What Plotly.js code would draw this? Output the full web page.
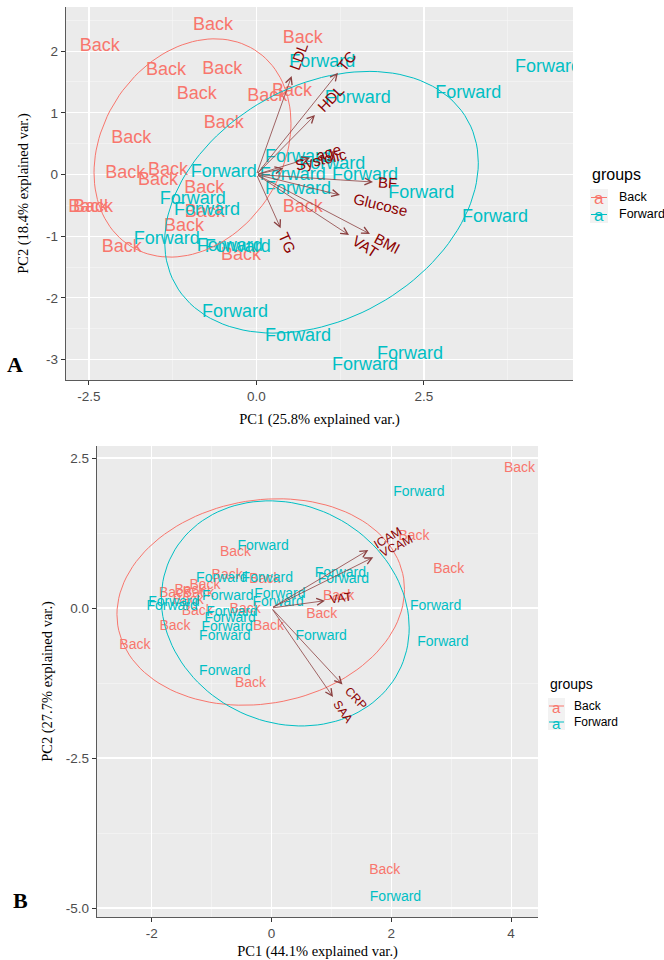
<!DOCTYPE html>
<html><head><meta charset="utf-8">
<script src="https://cdn.plot.ly/plotly-3.0.1.min.js"></script>
<style>html,body{margin:0;padding:0;overflow:hidden;background:#fff}#chart{width:664px;height:960px}</style>
</head><body><div id="chart"></div>
<script>
// ---------- Panel A data ----------
const groupNames = ['Back', 'Forward'];
const groupColors = ['#F8766D', '#00BFC4'];

const aBackX = [-2.34,-0.65,0.69,-1.35,-0.51,-0.89,0.16,0.53,-0.49,-1.87,-1.96,-1.32,-1.47,-0.78,-2.51,-2.44,-2.01,-0.77,-1.08,-0.23,0.69];
const aBackY = [2.08,2.41,2.21,1.68,1.71,1.30,1.26,1.34,0.83,0.58,0.01,0.06,-0.09,-0.22,-0.53,-0.53,-1.18,-0.62,-0.85,-1.31,-0.54];
const aFwdX = [0.98,4.35,3.16,1.51,-0.49,0.62,1.13,0.54,1.62,0.62,2.46,3.56,-0.95,-0.74,-1.34,-0.40,-0.28,-0.32,0.62,2.29,1.62];
const aFwdY = [1.82,1.74,1.31,1.24,0.04,0.27,0.17,-0.02,-0.02,-0.25,-0.30,-0.69,-0.40,-0.59,-1.06,-1.17,-1.19,-2.24,-2.62,-2.91,-3.10];

const aVarNames = ['LDL','TC','HDL','age','Systolic','BF','Glucose','BMI','VAT','TG'];
const aVarX = [0.525,1.216,0.873,0.80,0.40,1.739,1.246,1.694,1.381,0.361];
const aVarY = [1.596,1.650,0.964,0.27,0.10,-0.122,-0.332,-0.964,-0.981,-0.872];

// ellipse (centre and covariance) per group: [Back, Forward]
const aEllCx = [-0.955, 0.97];
const aEllCy = [0.43, -0.45];
const aEllSxx = [2.16, 5.48];
const aEllSyy = [3.13, 4.5];
const aEllSxy = [0.59, 1.5];

const aXTickVals = [-2.5, 0, 2.5];
const aXTickText = ['-2.5', '0.0', '2.5'];
const aYTickVals = [-3, -2, -1, 0, 1, 2];
const aYTickText = ['-3', '-2', '-1', '0', '1', '2'];
const aXTitle = 'PC1 (25.8% explained var.)';
const aYTitle = 'PC2 (18.4% explained var.)';

// ---------- Panel B data ----------
const bBackX = [4.14,2.38,2.96,1.12,0.84,-0.60,-0.74,-0.11,-0.05,-1.11,-1.22,-1.62,-1.39,-1.24,-0.44,-1.61,-2.28,-0.35,1.89,-1.36];
const bBackY = [2.33,1.20,0.65,0.20,-0.10,0.93,0.55,0.47,-0.30,0.37,0.25,0.25,0.13,-0.05,-0.02,-0.30,-0.62,-1.25,-4.38,0.30];
const bFwdX = [2.46,2.74,2.86,-0.14,1.15,1.20,0.83,-0.07,0.14,0.11,-0.83,-0.73,-1.63,-1.66,-0.66,-0.69,-0.74,-0.78,-0.78,2.07];
const bFwdY = [1.92,0.02,-0.57,1.03,0.58,0.48,-0.47,0.50,0.22,0.10,0.50,0.20,0.10,0.03,-0.07,-0.18,-0.33,-0.48,-1.05,-4.82];

const bVarNames = ['ICAM','VCAM','VAT','CRP','SAA'];
const bVarX = [1.616,1.699,0.893,1.185,1.027];
const bVarY = [0.967,0.845,0.122,-1.275,-1.483];

const bEllCx = [-0.18, 0.23];
const bEllCy = [0.10, -0.09];
const bEllSxx = [5.76, 4.28];
const bEllSyy = [2.96, 3.52];
const bEllSxy = [0.5, -0.5];

const bXTickVals = [-2, 0, 2, 4];
const bXTickText = ['-2', '0', '2', '4'];
const bYTickVals = [-5, -2.5, 0, 2.5];
const bYTickText = ['-5.0', '-2.5', '0.0', '2.5'];
const bXTitle = 'PC1 (44.1% explained var.)';
const bYTitle = 'PC2 (27.7% explained var.)';

// ---------- geometry / layout ----------
const W = 664, H = 960;
const panels = [
  {xa:'x', ya:'y', left:66, right:573, top:7, bottom:380, xr:[-2.843,4.724], yr:[-3.331,2.715],
   xt:aXTickVals, xtt:aXTickText, yt:aYTickVals, ytt:aYTickText, xminor:1.25, yminor:0.5,
   back:[aBackX,aBackY], fwd:[aFwdX,aFwdY], vn:aVarNames, vx:aVarX, vy:aVarY,
   ell:[aEllCx,aEllCy,aEllSxx,aEllSyy,aEllSxy], ptSize:18, varSize:15, xTitle:aXTitle, yTitle:aYTitle,
   yStand:14},
  {xa:'x2', ya:'y2', left:97, right:538, top:446, bottom:917, xr:[-2.913,4.449], yr:[-5.15,2.7],
   xt:bXTickVals, xtt:bXTickText, yt:bYTickVals, ytt:bYTickText, xminor:1, yminor:1.25,
   back:[bBackX,bBackY], fwd:[bFwdX,bFwdY], vn:bVarNames, vx:bVarX, vy:bVarY,
   ell:[bEllCx,bEllCy,bEllSxx,bEllSyy,bEllSxy], ptSize:14, varSize:12, xTitle:bXTitle, yTitle:bYTitle,
   yStand:9}
];

const sans = 'Liberation Sans, Arial, sans-serif';
const serif = 'Liberation Serif, Times New Roman, serif';
const ctx = document.createElement('canvas').getContext('2d');
function textW(t, size){ ctx.font = size + 'px "Liberation Sans"'; return ctx.measureText(t).width; }

function ellipsePath(cx, cy, sxx, syy, sxy){
  const l11 = Math.sqrt(sxx), l21 = sxy / l11, l22 = Math.sqrt(syy - l21*l21);
  const xs = [], ys = [];
  for (let i = 0; i <= 120; i++){
    const t = 2*Math.PI*i/120, u = Math.cos(t), v = Math.sin(t);
    xs.push(cx + l11*u); ys.push(cy + l21*u + l22*v);
  }
  return [xs, ys];
}

const traces = [];
const annotations = [];
const shapes = [];
const layout = {
  width: W, height: H, margin:{l:0,r:0,t:0,b:0},
  paper_bgcolor:'#ffffff', plot_bgcolor:'#EBEBEB', showlegend:false,
  annotations: annotations, shapes: shapes
};

panels.forEach((p, pi) => {
  const sfx = pi === 0 ? '' : '2';
  const axCommon = {
    showline:true, linecolor:'#5a5a5a', linewidth:1.2, mirror:false,
    ticks:'outside', ticklen:4, tickcolor:'#333333', tickwidth:1,
    tickfont:{family:sans, size:13.5, color:'#4D4D4D'},
    showgrid:true, gridcolor:'#FFFFFF', gridwidth:1.1, zeroline:false, fixedrange:true
  };
  layout['xaxis'+sfx] = Object.assign({}, axCommon, {
    domain:[p.left/W, p.right/W], range:p.xr, anchor:'y'+sfx,
    tickmode:'array', tickvals:p.xt, ticktext:p.xtt,
    minor:{dtick:p.xminor, tick0:0, showgrid:true, gridcolor:'#F7F7F7', gridwidth:0.6, ticks:''},
    title:{text:p.xTitle, font:{family:serif, size:14.5, color:'#000'}, standoff:10}
  });
  layout['yaxis'+sfx] = Object.assign({}, axCommon, {
    domain:[1 - p.bottom/H, 1 - p.top/H], range:p.yr, anchor:'x'+sfx,
    tickmode:'array', tickvals:p.yt, ticktext:p.ytt,
    minor:{dtick:p.yminor, tick0:0, showgrid:true, gridcolor:'#F7F7F7', gridwidth:0.6, ticks:''},
    title:{text:p.yTitle, font:{family:serif, size:14.5, color:'#000'}, standoff:p.yStand}
  });

  // sample labels
  [p.back, p.fwd].forEach((g, gi) => {
    traces.push({
      type:'scatter', mode:'text', x:g[0], y:g[1], text:g[0].map(() => groupNames[gi]),
      textposition:'middle center', textfont:{family:sans, size:p.ptSize, color:groupColors[gi]},
      xaxis:p.xa, yaxis:p.ya, hoverinfo:'skip', cliponaxis:true
    });
  });
  // ellipses
  [0,1].forEach(gi => {
    const e = ellipsePath(p.ell[0][gi], p.ell[1][gi], p.ell[2][gi], p.ell[3][gi], p.ell[4][gi]);
    traces.push({type:'scatter', mode:'lines', x:e[0], y:e[1], line:{color:groupColors[gi], width:1},
      xaxis:p.xa, yaxis:p.ya, hoverinfo:'skip'});
  });

  // arrows + variable names
  const pxX = (p.right - p.left) / (p.xr[1] - p.xr[0]);
  const pxY = (p.bottom - p.top) / (p.yr[1] - p.yr[0]);
  p.vn.forEach((name, i) => {
    annotations.push({
      xref:p.xa, yref:p.ya, axref:p.xa, ayref:p.ya, x:p.vx[i], y:p.vy[i], ax:0, ay:0,
      text:'', showarrow:true, arrowhead:5, arrowsize:1.7, arrowwidth:0.8, arrowcolor:'#8B4040',
      standoff:0, startstandoff:0
    });
    const dx = p.vx[i]*pxX, dy = p.vy[i]*pxY; // pixel, y up
    const len = Math.hypot(dx, dy), ux = dx/len, uy = dy/len;
    const d = 0.75 * textW(name, p.varSize);
    annotations.push({
      xref:p.xa, yref:p.ya, x:p.vx[i], y:p.vy[i], xshift:ux*d, yshift:uy*d,
      text:name, showarrow:false, textangle:-Math.atan2(dy, dx)*180/Math.PI,
      xanchor:'center', yanchor:'middle',
      font:{family:sans, size:p.varSize, color:'#8B0000'}
    });
  });
});

// panel letters
annotations.push({xref:'paper', yref:'paper', x:15/W, y:1-365/H, text:'<b>A</b>', showarrow:false,
  xanchor:'center', yanchor:'middle', font:{family:serif, size:22, color:'#000'}});
annotations.push({xref:'paper', yref:'paper', x:20/W, y:1-900/H, text:'<b>B</b>', showarrow:false,
  xanchor:'center', yanchor:'middle', font:{family:serif, size:22, color:'#000'}});

// custom legends (ggplot style: "a" glyph with a line through it)
const legends = [
  {titleX:590, titleY:174, title:16, keyL:590, keyW:18, keyH:17, keyTop:189, labX:617, label:12.5, glyph:17},
  {titleX:548, titleY:684, title:14, keyL:548, keyW:17, keyH:16, keyTop:698, labX:572, label:12, glyph:15}
];
legends.forEach(L => {
  annotations.push({xref:'paper', yref:'paper', x:L.titleX/W, y:1-L.titleY/H, text:'groups', showarrow:false,
    xanchor:'left', yanchor:'middle', font:{family:sans, size:L.title, color:'#000'}});
  groupNames.forEach((g, gi) => {
    const top = L.keyTop + gi*L.keyH, cy = top + L.keyH/2, cx = L.keyL + L.keyW/2;
    shapes.push({type:'rect', xref:'paper', yref:'paper', x0:L.keyL/W, x1:(L.keyL+L.keyW)/W,
      y0:1-(top+L.keyH)/H, y1:1-top/H, fillcolor:'#F2F2F2', line:{width:0}, layer:'below'});
    shapes.push({type:'line', xref:'paper', yref:'paper', x0:(L.keyL+1)/W, x1:(L.keyL+L.keyW-1)/W,
      y0:1-cy/H, y1:1-cy/H, line:{color:groupColors[gi], width:1}});
    annotations.push({xref:'paper', yref:'paper', x:cx/W, y:1-(cy+1)/H, text:'a', showarrow:false,
      xanchor:'center', yanchor:'middle', font:{family:sans, size:L.glyph, color:groupColors[gi]}});
    annotations.push({xref:'paper', yref:'paper', x:L.labX/W, y:1-cy/H, text:g, showarrow:false,
      xanchor:'left', yanchor:'middle', font:{family:sans, size:L.label, color:'#000'}});
  });
});

Plotly.newPlot('chart', traces, layout, {staticPlot:true, displayModeBar:false});
</script></body></html>
